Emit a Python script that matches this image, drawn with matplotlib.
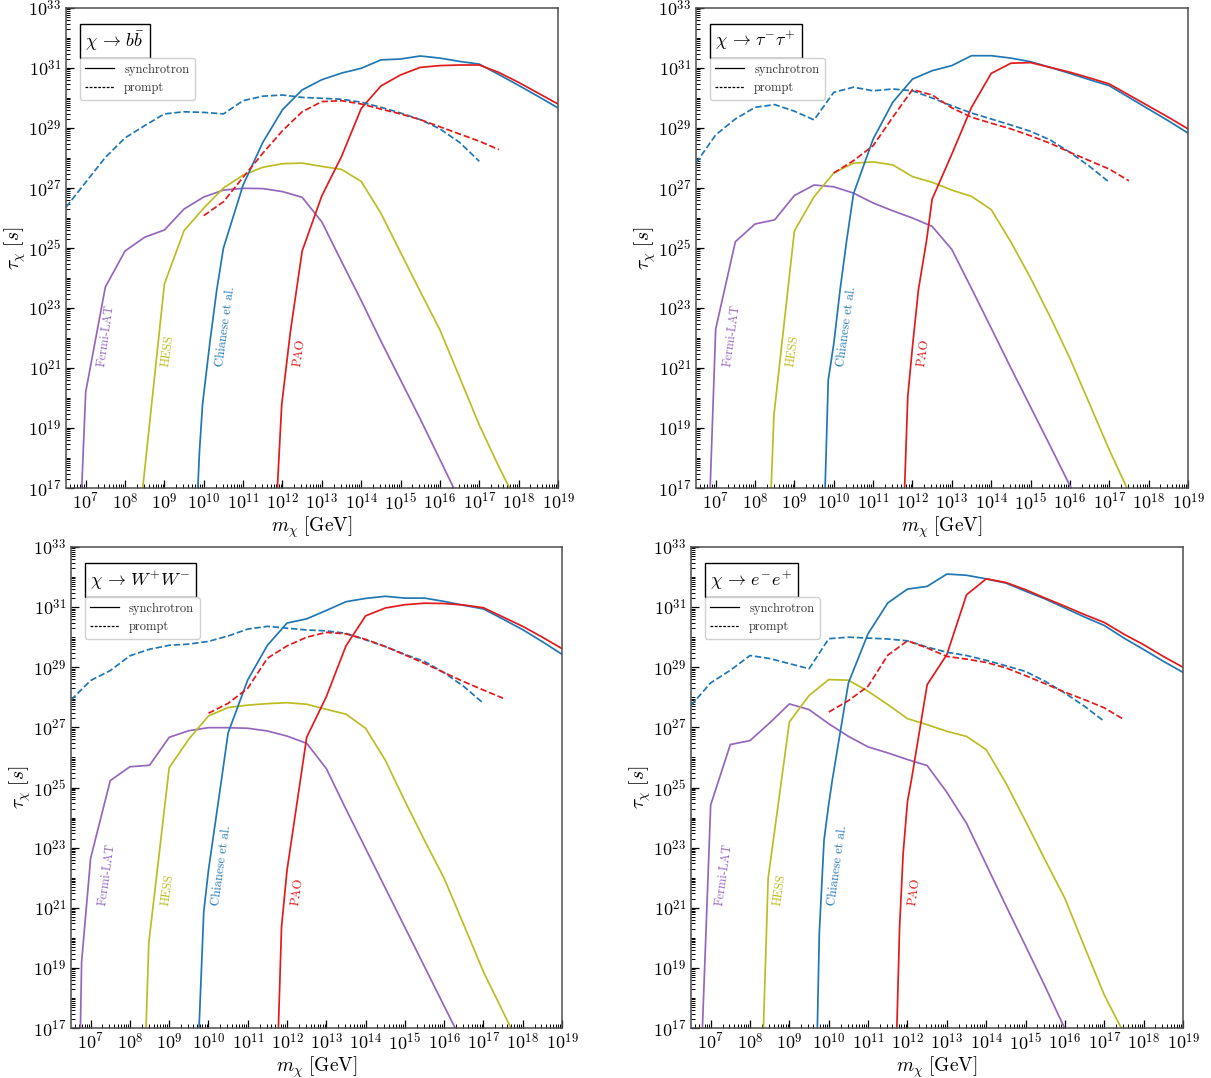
import numpy as np
import matplotlib
matplotlib.use("Agg")
import matplotlib.pyplot as plt
from matplotlib.lines import Line2D
from matplotlib.ticker import LogLocator, NullFormatter

plt.rcParams.update({
    "font.family": "serif",
    "font.serif": ["cmr10"],
    "mathtext.fontset": "cm",
    "axes.formatter.use_mathtext": True,
    "axes.unicode_minus": False,
})

# all values are log10(m / GeV) and log10(tau / s)

# shared mass grids of the "prompt" curves
PROMPT_BLUE_M = [6.5, 7.0, 7.5, 8.0, 8.5, 9.0, 9.5, 10.0, 10.5, 11.0, 11.5,
                 12.0, 12.5, 13.0, 13.5, 14.0, 14.5, 15.0, 15.5, 16.0, 16.5, 17.0]
PROMPT_RED_M = [10.0, 10.5, 11.0, 11.5, 12.0, 12.5, 13.0, 13.5, 14.0, 14.5,
                15.0, 15.5, 16.0, 16.5, 17.0, 17.5]

# ---- chi -> b bbar
BB_FERMI_M = [6.90, 7.0, 7.5, 8.0, 8.5, 9.0, 9.5, 10.0, 10.5, 11.0, 11.5, 12.0, 12.5, 13.0,
              13.5, 14.0, 14.5, 15.0, 15.5, 16.0, 16.35]
BB_FERMI_T = [17.0, 20.2, 23.7, 24.9, 25.36, 25.6, 26.3, 26.7, 26.93, 26.99, 26.98, 26.88, 26.69, 25.87,
              24.55, 23.25, 21.9, 20.6, 19.3, 17.95, 17.0]
BB_HESS_M = [8.45, 9.0, 9.5, 10.0, 10.5, 11.0, 11.5, 12.0, 12.5, 13.0, 13.5, 14.0, 14.5,
             15.0, 15.5, 16.0, 16.5, 17.0, 17.5, 17.77]
BB_HESS_T = [17.0, 23.8, 25.58, 26.33, 27.0, 27.43, 27.69, 27.81, 27.83, 27.72, 27.62, 27.22, 26.16,
             24.85, 23.55, 22.27, 20.69, 19.1, 17.7, 17.0]
BB_CHI_M = [9.85, 9.89, 9.97, 10.16, 10.33, 10.5, 11.0, 11.5, 12.0, 12.5, 13.0, 13.5, 14.0, 14.5,
            15.0, 15.5, 16.0, 16.5, 17.0, 17.5, 18.0, 18.5, 19.0]
BB_CHI_T = [17.0, 18.2, 19.8, 21.9, 23.6, 25.0, 27.1, 28.52, 29.61, 30.27, 30.61, 30.83, 30.99, 31.27,
            31.30, 31.40, 31.33, 31.22, 31.13, 30.78, 30.42, 30.05, 29.67]
BB_PAO_M = [11.87, 11.98, 12.2, 12.5, 13.0, 13.5, 14.0, 14.5, 15.0, 15.5, 16.0, 16.5, 17.0,
            17.5, 18.0, 18.5, 19.0]
BB_PAO_T = [17.0, 19.77, 22.2, 24.9, 26.74, 28.05, 29.65, 30.4, 30.77, 31.02, 31.08, 31.1, 31.1,
            30.85, 30.52, 30.16, 29.8]
BB_PROMPT_BLUE_T = [26.36, 27.19, 28.02, 28.67, 29.08, 29.47, 29.54, 29.52, 29.47, 29.91, 30.06,
                    30.10, 30.02, 29.99, 29.96, 29.86, 29.69, 29.50, 29.28, 28.97, 28.52, 27.89]
BB_PROMPT_RED_T = [26.08, 26.54, 27.36, 28.16, 28.91, 29.54, 29.88, 29.91, 29.80, 29.63,
                   29.47, 29.28, 29.04, 28.80, 28.56, 28.28]

# ---- chi -> tau- tau+
TT_FERMI_M = [6.86, 7.0, 7.5, 8.0, 8.5, 9.0, 9.5, 10.0, 10.5, 11.0, 11.5, 12.0, 12.5, 13.0,
              13.5, 14.0, 14.5, 15.0, 15.5, 16.03]
TT_FERMI_T = [17.0, 22.3, 25.21, 25.8, 25.94, 26.75, 27.1, 27.04, 26.83, 26.5, 26.24, 26.0, 25.72, 24.95,
              23.65, 22.33, 21.0, 19.7, 18.4, 17.0]
TT_HESS_M = [8.41, 8.48, 9.0, 9.5, 10.0, 10.5, 11.0, 11.5, 12.0, 12.5, 13.0, 13.5, 14.0, 14.5,
             15.0, 15.5, 16.0, 16.5, 17.0, 17.45]
TT_HESS_T = [17.0, 19.43, 25.57, 26.71, 27.5, 27.83, 27.87, 27.77, 27.38, 27.19, 26.93, 26.72, 26.28, 25.2,
             24.0, 22.7, 21.32, 19.8, 18.27, 17.0]
TT_CHI_M = [9.78, 9.86, 10.0, 10.16, 10.33, 10.5, 11.0, 11.5, 12.0, 12.5, 13.0, 13.5, 14.0, 14.5,
            15.0, 15.5, 16.0, 16.5, 17.0, 17.5, 18.0, 18.5, 19.0]
TT_CHI_T = [17.0, 20.6, 21.8, 23.6, 25.27, 26.8, 28.63, 29.86, 30.63, 30.91, 31.08, 31.41, 31.41, 31.33,
            31.21, 31.02, 30.82, 30.61, 30.41, 30.02, 29.63, 29.24, 28.83]
TT_PAO_M = [11.8, 11.88, 12.0, 12.15, 12.36, 12.5, 13.0, 13.5, 14.0, 14.5, 15.0, 15.5, 16.0, 16.5,
            17.0, 17.5, 18.0, 18.5, 19.0]
TT_PAO_T = [17.0, 20.04, 21.71, 23.6, 25.27, 26.63, 28.13, 29.69, 30.82, 31.16, 31.18, 31.02, 30.86, 30.67,
            30.47, 30.1, 29.73, 29.36, 28.97]
TT_PROMPT_BLUE_T = [27.83, 28.77, 29.30, 29.69, 29.78, 29.56, 29.27, 30.19, 30.36, 30.24, 30.30,
                    30.24, 30.0, 29.74, 29.5, 29.3, 29.1, 28.89, 28.6, 28.19, 27.72, 27.19]
TT_PROMPT_RED_T = [27.5, 27.91, 28.41, 29.36, 30.28, 30.1, 29.67, 29.36, 29.16, 28.97,
                   28.74, 28.49, 28.19, 27.91, 27.63, 27.24]

# ---- chi -> W+ W-
WW_FERMI_M = [6.74, 6.77, 7.0, 7.5, 8.0, 8.5, 9.0, 9.5, 10.0, 10.5, 11.0, 11.5, 12.0, 12.5, 13.0,
              13.5, 14.0, 14.5, 15.0, 15.5, 16.0, 16.28]
WW_FERMI_T = [17.0, 19.2, 22.65, 25.23, 25.69, 25.74, 26.67, 26.89, 26.99, 26.99, 26.97, 26.88, 26.71, 26.47,
              25.63, 24.28, 22.97, 21.66, 20.35, 19.04, 17.73, 17.0]
WW_HESS_M = [8.41, 8.48, 9.0, 9.5, 10.0, 10.5, 11.0, 11.5, 12.0, 12.5, 13.0, 13.5, 14.0, 14.5,
             15.0, 15.5, 16.0, 16.5, 17.0, 17.7]
WW_HESS_T = [17.0, 19.82, 25.66, 26.61, 27.38, 27.66, 27.74, 27.79, 27.82, 27.77, 27.6, 27.44, 26.97, 25.91,
             24.55, 23.24, 21.98, 20.43, 18.87, 17.0]
WW_CHI_M = [9.76, 9.88, 10.0, 10.33, 10.5, 11.0, 11.5, 12.0, 12.5, 13.0, 13.5, 14.0, 14.5,
            15.0, 15.5, 16.0, 16.5, 17.0, 17.5, 18.0, 18.5, 19.0]
WW_CHI_T = [17.0, 20.87, 22.25, 25.25, 26.82, 28.58, 29.73, 30.47, 30.61, 30.89, 31.18, 31.29, 31.36,
            31.3, 31.3, 31.19, 31.06, 30.94, 30.6, 30.25, 29.85, 29.43]
WW_PAO_M = [11.78, 11.86, 12.0, 12.34, 12.5, 13.0, 13.5, 14.0, 14.5, 15.0, 15.5, 16.0, 16.5,
            17.0, 17.5, 18.0, 18.5, 19.0]
WW_PAO_T = [17.0, 20.37, 22.25, 25.25, 26.67, 28.02, 29.71, 30.71, 30.97, 31.08, 31.13, 31.12, 31.07,
            30.98, 30.67, 30.36, 30.0, 29.62]
WW_PROMPT_BLUE_T = [27.91, 28.56, 28.89, 29.38, 29.6, 29.73, 29.77, 29.86, 30.04, 30.27, 30.36,
                    30.3, 30.24, 30.21, 30.13, 29.91, 29.69, 29.43, 29.19, 28.82, 28.36, 27.8]
WW_PROMPT_RED_T = [27.47, 27.8, 28.3, 29.3, 29.71, 30.0, 30.16, 30.11, 29.93, 29.69,
                   29.41, 29.13, 28.82, 28.52, 28.24, 27.97]

# ---- chi -> e- e+
EE_FERMI_M = [6.79, 7.0, 7.5, 8.0, 8.5, 9.0, 9.5, 10.0, 10.5, 11.0, 11.5, 12.0, 12.5, 12.99,
              13.5, 14.0, 14.5, 15.0, 15.5, 15.99]
EE_FERMI_T = [17.0, 24.42, 26.43, 26.56, 27.15, 27.78, 27.59, 27.12, 26.7, 26.35, 26.15, 25.93, 25.73, 24.86,
              23.81, 22.44, 21.07, 19.73, 18.37, 17.0]
EE_HESS_M = [8.34, 8.46, 9.0, 9.5, 10.0, 10.5, 11.0, 11.5, 12.0, 12.5, 13.0, 13.5, 14.0, 14.5,
             15.0, 15.5, 16.0, 16.5, 17.0, 17.43]
EE_HESS_T = [17.0, 21.98, 27.18, 28.06, 28.59, 28.57, 28.2, 27.76, 27.29, 27.09, 26.87, 26.7, 26.26, 25.15,
             23.88, 22.58, 21.31, 19.69, 18.1, 17.0]
EE_CHI_M = [9.71, 9.76, 9.88, 9.99, 10.09, 10.5, 11.0, 11.5, 12.0, 12.5, 13.0, 13.5, 14.0, 14.5,
            15.0, 15.5, 16.0, 16.5, 17.0, 17.5, 18.0, 18.5, 19.0]
EE_CHI_T = [17.0, 20.15, 23.25, 24.36, 25.25, 28.48, 30.12, 31.14, 31.6, 31.69, 32.1, 32.06, 31.94, 31.8,
            31.53, 31.27, 30.97, 30.67, 30.39, 29.97, 29.59, 29.2, 28.83]
EE_PAO_M = [11.73, 11.8, 11.89, 12.0, 12.1, 12.5, 13.0, 13.5, 14.0, 14.5, 15.0, 15.5, 16.0, 16.5,
            17.0, 17.5, 18.0, 18.5, 19.0]
EE_PAO_T = [17.0, 20.37, 22.81, 24.53, 25.25, 28.42, 29.42, 31.41, 31.94, 31.82, 31.58, 31.3, 31.03, 30.75,
            30.49, 30.1, 29.75, 29.36, 29.0]
EE_PROMPT_BLUE_T = [27.73, 28.48, 28.9, 29.39, 29.29, 29.12, 28.95, 29.95, 30.0, 29.97, 29.94,
                    29.88, 29.67, 29.5, 29.39, 29.23, 29.05, 28.86, 28.53, 28.14, 27.7, 27.2]
EE_PROMPT_RED_T = [27.51, 27.89, 28.37, 29.4, 29.88, 29.64, 29.36, 29.27, 29.16, 28.98,
                   28.72, 28.45, 28.17, 27.92, 27.65, 27.26]

CHANNELS = [r"$\chi \,\rightarrow\, b\bar{b}$", r"$\chi \,\rightarrow\, \tau^{-}\tau^{+}$",
            r"$\chi \,\rightarrow\, W^{+}W^{-}$", r"$\chi \,\rightarrow\, e^{-}e^{+}$"]
EXPERIMENTS = ["Fermi-LAT", "HESS", "Chianese et al.", "PAO"]
# left edge (log10 m) of the rotated experiment names, per panel
LABEL_M = [[7.24, 8.87, 10.25, 12.24],
           [7.15, 8.76, 10.03, 12.07],
           [7.15, 8.76, 10.03, 12.05],
           [7.07, 8.56, 9.94, 11.97]]
LABEL_T = 21.03

COLORS = {"Fermi-LAT": "#9467bd", "HESS": "#bcbd22", "Chianese et al.": "#1f77b4", "PAO": "#e31a1c"}

SOLID = [
    [(BB_FERMI_M, BB_FERMI_T), (BB_HESS_M, BB_HESS_T), (BB_CHI_M, BB_CHI_T), (BB_PAO_M, BB_PAO_T)],
    [(TT_FERMI_M, TT_FERMI_T), (TT_HESS_M, TT_HESS_T), (TT_CHI_M, TT_CHI_T), (TT_PAO_M, TT_PAO_T)],
    [(WW_FERMI_M, WW_FERMI_T), (WW_HESS_M, WW_HESS_T), (WW_CHI_M, WW_CHI_T), (WW_PAO_M, WW_PAO_T)],
    [(EE_FERMI_M, EE_FERMI_T), (EE_HESS_M, EE_HESS_T), (EE_CHI_M, EE_CHI_T), (EE_PAO_M, EE_PAO_T)],
]
PROMPT = [
    (BB_PROMPT_BLUE_T, BB_PROMPT_RED_T),
    (TT_PROMPT_BLUE_T, TT_PROMPT_RED_T),
    (WW_PROMPT_BLUE_T, WW_PROMPT_RED_T),
    (EE_PROMPT_BLUE_T, EE_PROMPT_RED_T),
]

W, H = 1211, 1078
# axes boxes in pixels: left, top, right, bottom
BOXES = [(66, 8, 558, 488), (696, 8, 1188, 488), (71, 547, 562, 1028), (691, 547, 1183, 1028)]

fig = plt.figure(figsize=(W / 100, H / 100), dpi=100)

for i in range(4):
    l, t, r, b = BOXES[i]
    ax = fig.add_axes([l / W, 1 - b / H, (r - l) / W, (b - t) / H])
    ax.set_xscale("log")
    ax.set_yscale("log")

    for name, (m, tau) in zip(EXPERIMENTS, SOLID[i]):
        ax.plot(10 ** np.array(m), 10 ** np.array(tau), "-", color=COLORS[name], lw=1.25)
    blue_t, red_t = PROMPT[i]
    ax.plot(10 ** np.array(PROMPT_BLUE_M), 10 ** np.array(blue_t), "--",
            color=COLORS["Chianese et al."], lw=1.25)
    ax.plot(10 ** np.array(PROMPT_RED_M), 10 ** np.array(red_t), "--",
            color=COLORS["PAO"], lw=1.25)

    for name, lm in zip(EXPERIMENTS, LABEL_M[i]):
        ax.text(10 ** lm, 10 ** LABEL_T, name, color=COLORS[name], rotation=82,
                ha="left", va="bottom", fontsize=9)

    ax.set_xlim(10 ** 6.5, 1e19)
    ax.set_ylim(1e17, 1e33)

    xt = list(range(7, 20))
    ax.set_xticks([10.0 ** k for k in xt], [rf"$10^{{{k}}}$" for k in xt])
    yt = list(range(17, 34, 2))
    ax.set_yticks([10.0 ** k for k in yt], [rf"$10^{{{k}}}$" for k in yt])
    ax.xaxis.set_minor_locator(LogLocator(base=10, subs=np.arange(2, 10), numticks=100))
    ax.yaxis.set_minor_locator(LogLocator(base=10, subs=np.arange(1, 10), numticks=100))
    ax.xaxis.set_minor_formatter(NullFormatter())
    ax.yaxis.set_minor_formatter(NullFormatter())
    ax.tick_params(which="both", direction="in", top=False, right=False, labelsize=13)
    ax.tick_params(which="major", length=6, width=0.9)
    ax.tick_params(which="minor", length=3, width=0.7)
    ax.tick_params(axis="x", pad=3)
    for s in ax.spines.values():
        s.set_color("0.3")
        s.set_linewidth(1.1)

    ax.set_xlabel(r"$m_\chi\ [\mathrm{GeV}]$", fontsize=14, labelpad=1)
    ax.set_ylabel(r"$\tau_\chi\ [s]$", fontsize=14, labelpad=0)

    ax.text(0.039, 0.931, CHANNELS[i], transform=ax.transAxes, fontsize=13,
            ha="left", va="center",
            bbox=dict(boxstyle="square,pad=0.3", fc="white", ec="black", lw=1.0))

    handles = [Line2D([], [], color="black", lw=0.9, ls="-"),
               Line2D([], [], color="black", lw=0.9, ls=(0, (2.2, 1.2)))]
    ax.legend(handles, ["synchrotron", "prompt"], loc="upper left",
              bbox_to_anchor=(0.028, 0.896), borderaxespad=0, fontsize=9,
              handlelength=2.3, labelspacing=0.5, borderpad=0.45,
              labelcolor="0.2", framealpha=1, edgecolor="0.82")

fig.savefig("out.png", dpi=100)
